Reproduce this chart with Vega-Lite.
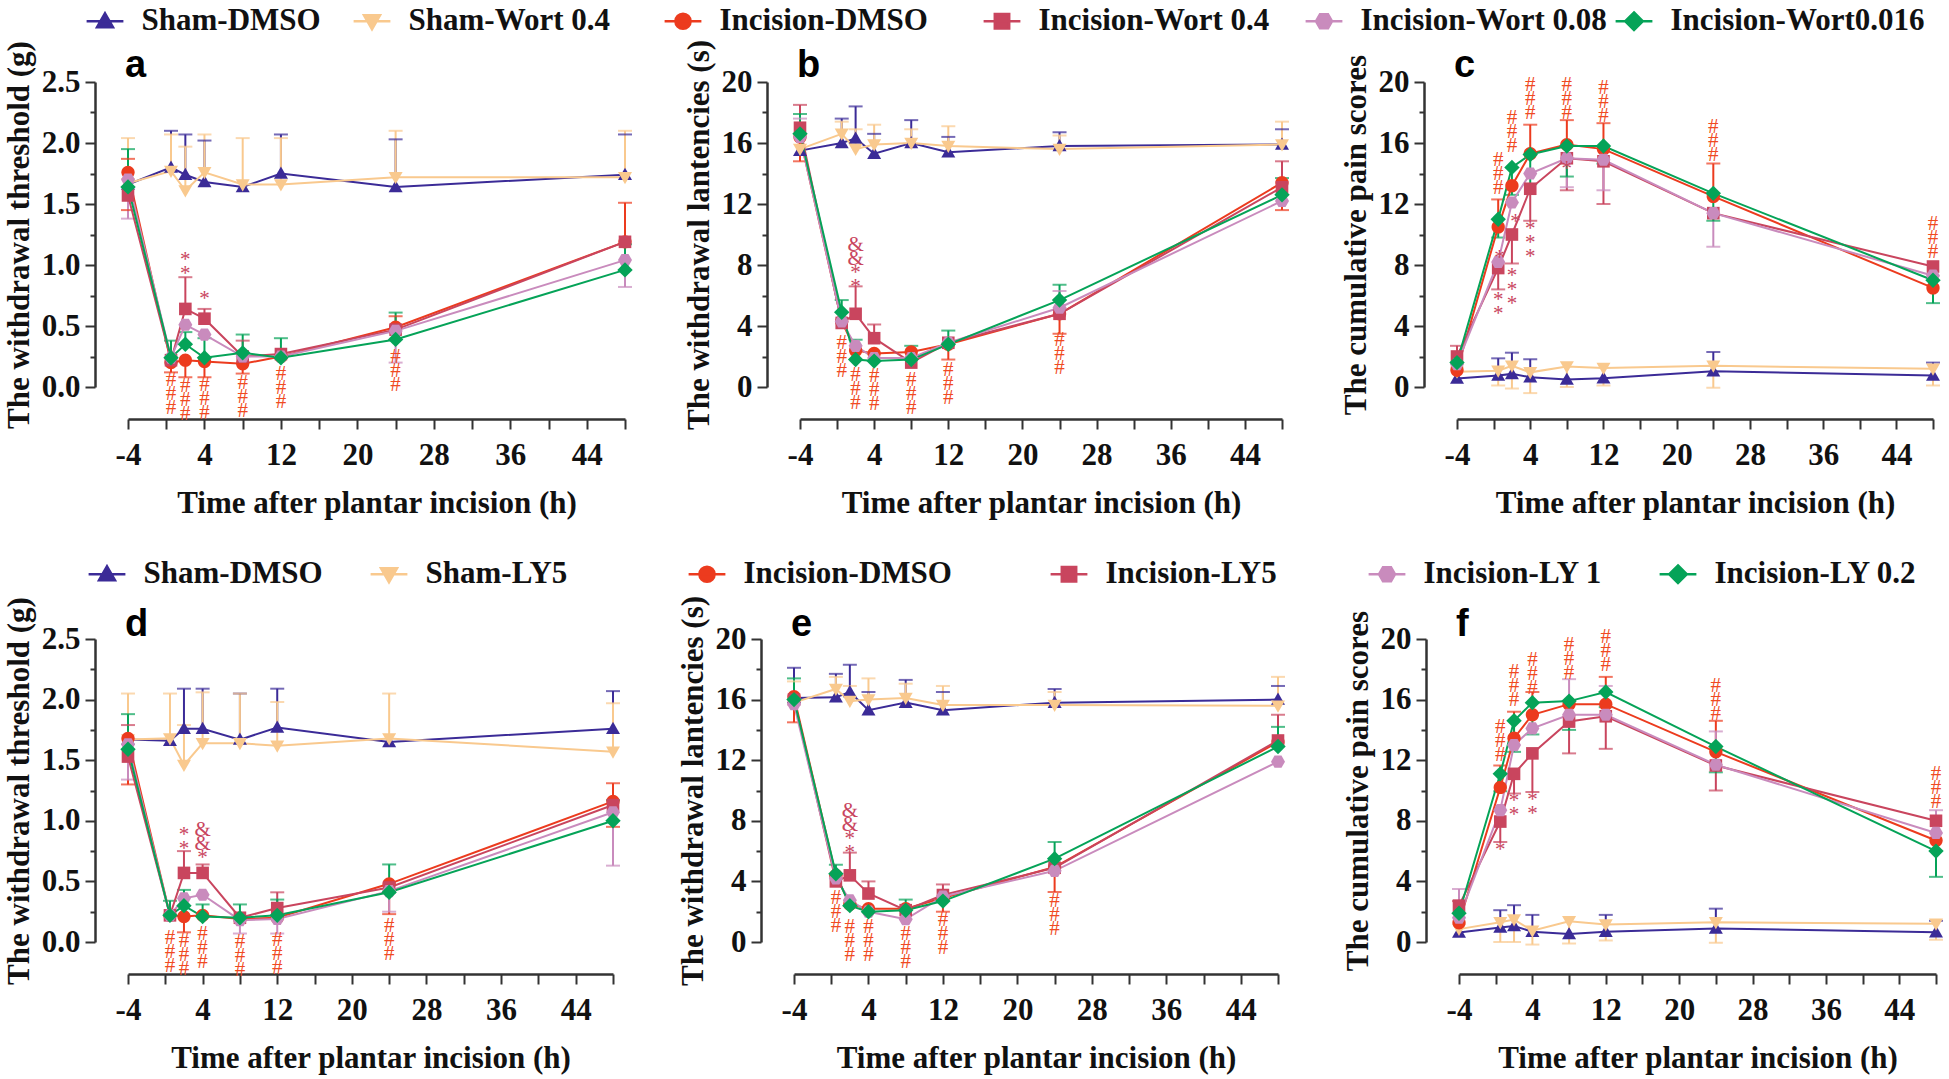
{
"$schema": "https://vega.github.io/schema/vega-lite/v6.json",
"padding": {"left": 3, "top": 5, "right": 5, "bottom": 5},
"background": "white",
"config": {
  "view": {"stroke": null},
  "axis": {"grid": false, "domainColor": "#333333", "domainWidth": 2.5, "tickColor": "#333333", "tickWidth": 2, "labelFont": "Liberation Serif", "labelFontSize": 31, "labelFontWeight": "bold", "labelColor": "#111111", "titleFont": "Liberation Serif", "titleFontSize": 31, "titleFontWeight": "bold", "titleColor": "#111111", "labelOverlap": false, "labelFlush": false, "labelBound": false},
  "text": {"font": "Liberation Serif"}
},
"datasets": {
"pts": [
{"p":"a","s":"Sham-DMSO","t":-4,"v":1.66},{"p":"a","s":"Sham-DMSO","t":0.5,"v":1.80,"hi":2.10},{"p":"a","s":"Sham-DMSO","t":2,"v":1.74,"hi":2.07},{"p":"a","s":"Sham-DMSO","t":4,"v":1.68,"hi":2.02},{"p":"a","s":"Sham-DMSO","t":8,"v":1.64},{"p":"a","s":"Sham-DMSO","t":12,"v":1.75,"hi":2.07},{"p":"a","s":"Sham-DMSO","t":24,"v":1.64,"hi":2.03},{"p":"a","s":"Sham-DMSO","t":48,"v":1.74,"hi":2.07},
{"p":"a","s":"Sham-Wort 0.4","t":-4,"v":1.67,"hi":2.04},{"p":"a","s":"Sham-Wort 0.4","t":0.5,"v":1.77,"hi":2.07},{"p":"a","s":"Sham-Wort 0.4","t":2,"v":1.61,"hi":1.97},{"p":"a","s":"Sham-Wort 0.4","t":4,"v":1.76,"hi":2.07},{"p":"a","s":"Sham-Wort 0.4","t":8,"v":1.66,"hi":2.04},{"p":"a","s":"Sham-Wort 0.4","t":12,"v":1.66,"hi":2.04},{"p":"a","s":"Sham-Wort 0.4","t":24,"v":1.72,"hi":2.10},{"p":"a","s":"Sham-Wort 0.4","t":48,"v":1.72,"hi":2.10},
{"p":"a","s":"Incision-DMSO","t":-4,"v":1.76,"hi":1.87,"lo":1.45},{"p":"a","s":"Incision-DMSO","t":0.5,"v":0.20,"lo":0.12},{"p":"a","s":"Incision-DMSO","t":2,"v":0.22,"lo":0.08},{"p":"a","s":"Incision-DMSO","t":4,"v":0.21,"lo":0.08},{"p":"a","s":"Incision-DMSO","t":8,"v":0.19,"lo":0.11},{"p":"a","s":"Incision-DMSO","t":12,"v":0.25},{"p":"a","s":"Incision-DMSO","t":24,"v":0.49,"hi":0.58},{"p":"a","s":"Incision-DMSO","t":48,"v":1.19,"hi":1.51},
{"p":"a","s":"Incision-Wort 0.4","t":-4,"v":1.57},{"p":"a","s":"Incision-Wort 0.4","t":0.5,"v":0.22},{"p":"a","s":"Incision-Wort 0.4","t":2,"v":0.64,"hi":0.90},{"p":"a","s":"Incision-Wort 0.4","t":4,"v":0.56,"hi":0.64},{"p":"a","s":"Incision-Wort 0.4","t":8,"v":0.25,"hi":0.38},{"p":"a","s":"Incision-Wort 0.4","t":12,"v":0.27},{"p":"a","s":"Incision-Wort 0.4","t":24,"v":0.47},{"p":"a","s":"Incision-Wort 0.4","t":48,"v":1.19},
{"p":"a","s":"Incision-Wort 0.08","t":-4,"v":1.70,"lo":1.38},{"p":"a","s":"Incision-Wort 0.08","t":0.5,"v":0.24},{"p":"a","s":"Incision-Wort 0.08","t":2,"v":0.51},{"p":"a","s":"Incision-Wort 0.08","t":4,"v":0.43},{"p":"a","s":"Incision-Wort 0.08","t":8,"v":0.25},{"p":"a","s":"Incision-Wort 0.08","t":12,"v":0.25},{"p":"a","s":"Incision-Wort 0.08","t":24,"v":0.46,"lo":0.20},{"p":"a","s":"Incision-Wort 0.08","t":48,"v":1.04,"lo":0.82},
{"p":"a","s":"Incision-Wort0.016","t":-4,"v":1.64,"hi":1.95},{"p":"a","s":"Incision-Wort0.016","t":0.5,"v":0.24,"hi":0.38},{"p":"a","s":"Incision-Wort0.016","t":2,"v":0.35,"hi":0.45},{"p":"a","s":"Incision-Wort0.016","t":4,"v":0.24,"hi":0.40},{"p":"a","s":"Incision-Wort0.016","t":8,"v":0.28,"hi":0.43},{"p":"a","s":"Incision-Wort0.016","t":12,"v":0.24,"hi":0.40},{"p":"a","s":"Incision-Wort0.016","t":24,"v":0.39,"hi":0.61},{"p":"a","s":"Incision-Wort0.016","t":48,"v":0.96,"hi":1.17},

{"p":"b","s":"Sham-DMSO","t":-4,"v":15.5},{"p":"b","s":"Sham-DMSO","t":0.5,"v":16.0,"hi":17.6},{"p":"b","s":"Sham-DMSO","t":2,"v":16.3,"hi":18.4},{"p":"b","s":"Sham-DMSO","t":4,"v":15.3,"hi":16.6},{"p":"b","s":"Sham-DMSO","t":8,"v":16.0,"hi":17.5},{"p":"b","s":"Sham-DMSO","t":12,"v":15.4,"hi":16.4},{"p":"b","s":"Sham-DMSO","t":24,"v":15.8,"hi":16.7},{"p":"b","s":"Sham-DMSO","t":48,"v":15.9,"hi":16.9},
{"p":"b","s":"Sham-Wort 0.4","t":-4,"v":15.6},{"p":"b","s":"Sham-Wort 0.4","t":0.5,"v":16.6,"hi":17.4},{"p":"b","s":"Sham-Wort 0.4","t":2,"v":15.6,"hi":16.9},{"p":"b","s":"Sham-Wort 0.4","t":4,"v":15.9,"hi":17.2},{"p":"b","s":"Sham-Wort 0.4","t":8,"v":16.0,"hi":16.9},{"p":"b","s":"Sham-Wort 0.4","t":12,"v":15.8,"hi":17.1},{"p":"b","s":"Sham-Wort 0.4","t":24,"v":15.6,"hi":16.5},{"p":"b","s":"Sham-Wort 0.4","t":48,"v":15.9,"hi":17.4},
{"p":"b","s":"Incision-DMSO","t":-4,"v":16.4,"lo":14.8},{"p":"b","s":"Incision-DMSO","t":0.5,"v":4.3},{"p":"b","s":"Incision-DMSO","t":2,"v":2.4},{"p":"b","s":"Incision-DMSO","t":4,"v":2.2},{"p":"b","s":"Incision-DMSO","t":8,"v":2.3},{"p":"b","s":"Incision-DMSO","t":12,"v":2.8,"lo":1.8},{"p":"b","s":"Incision-DMSO","t":24,"v":4.8,"lo":3.5},{"p":"b","s":"Incision-DMSO","t":48,"v":13.4,"lo":11.6},
{"p":"b","s":"Incision-Wort 0.4","t":-4,"v":17.0,"hi":18.5},{"p":"b","s":"Incision-Wort 0.4","t":0.5,"v":4.2},{"p":"b","s":"Incision-Wort 0.4","t":2,"v":4.8,"hi":6.6},{"p":"b","s":"Incision-Wort 0.4","t":4,"v":3.2,"hi":4.1},{"p":"b","s":"Incision-Wort 0.4","t":8,"v":1.6},{"p":"b","s":"Incision-Wort 0.4","t":12,"v":2.9},{"p":"b","s":"Incision-Wort 0.4","t":24,"v":4.8},{"p":"b","s":"Incision-Wort 0.4","t":48,"v":13.1,"hi":14.8},
{"p":"b","s":"Incision-Wort 0.08","t":-4,"v":16.4,"hi":17.6},{"p":"b","s":"Incision-Wort 0.08","t":0.5,"v":4.3},{"p":"b","s":"Incision-Wort 0.08","t":2,"v":2.7},{"p":"b","s":"Incision-Wort 0.08","t":4,"v":1.9},{"p":"b","s":"Incision-Wort 0.08","t":8,"v":1.9},{"p":"b","s":"Incision-Wort 0.08","t":12,"v":2.9},{"p":"b","s":"Incision-Wort 0.08","t":24,"v":5.2,"hi":6.3},{"p":"b","s":"Incision-Wort 0.08","t":48,"v":12.2},
{"p":"b","s":"Incision-Wort0.016","t":-4,"v":16.6,"hi":17.9},{"p":"b","s":"Incision-Wort0.016","t":0.5,"v":4.9,"hi":5.7},{"p":"b","s":"Incision-Wort0.016","t":2,"v":1.8,"hi":3.1},{"p":"b","s":"Incision-Wort0.016","t":4,"v":1.7},{"p":"b","s":"Incision-Wort0.016","t":8,"v":1.8,"hi":2.7},{"p":"b","s":"Incision-Wort0.016","t":12,"v":2.8,"hi":3.7},{"p":"b","s":"Incision-Wort0.016","t":24,"v":5.7,"hi":6.7},{"p":"b","s":"Incision-Wort0.016","t":48,"v":12.6,"hi":13.7},

{"p":"c","s":"Sham-DMSO","t":-4,"v":0.55},{"p":"c","s":"Sham-DMSO","t":0.5,"v":0.75,"hi":1.88},{"p":"c","s":"Sham-DMSO","t":2,"v":0.86,"hi":2.25},{"p":"c","s":"Sham-DMSO","t":4,"v":0.64,"hi":1.82},{"p":"c","s":"Sham-DMSO","t":8,"v":0.5},{"p":"c","s":"Sham-DMSO","t":12,"v":0.58},{"p":"c","s":"Sham-DMSO","t":24,"v":1.03,"hi":2.29},{"p":"c","s":"Sham-DMSO","t":48,"v":0.75,"hi":1.6},
{"p":"c","s":"Sham-Wort 0.4","t":-4,"v":1.0},{"p":"c","s":"Sham-Wort 0.4","t":0.5,"v":1.07,"lo":0.1},{"p":"c","s":"Sham-Wort 0.4","t":2,"v":1.39,"lo":-0.1},{"p":"c","s":"Sham-Wort 0.4","t":4,"v":0.96,"lo":-0.4},{"p":"c","s":"Sham-Wort 0.4","t":8,"v":1.35,"lo":0.0},{"p":"c","s":"Sham-Wort 0.4","t":12,"v":1.25,"lo":0.1},{"p":"c","s":"Sham-Wort 0.4","t":24,"v":1.39,"lo":-0.05},{"p":"c","s":"Sham-Wort 0.4","t":48,"v":1.2,"lo":0.1},
{"p":"c","s":"Incision-DMSO","t":-4,"v":1.1},{"p":"c","s":"Incision-DMSO","t":0.5,"v":10.5,"hi":12.3},{"p":"c","s":"Incision-DMSO","t":2,"v":13.2},{"p":"c","s":"Incision-DMSO","t":4,"v":15.3,"hi":17.2},{"p":"c","s":"Incision-DMSO","t":8,"v":15.9,"hi":17.5},{"p":"c","s":"Incision-DMSO","t":12,"v":15.6,"hi":17.3},{"p":"c","s":"Incision-DMSO","t":24,"v":12.5,"hi":14.65},{"p":"c","s":"Incision-DMSO","t":48,"v":6.5},
{"p":"c","s":"Incision-Wort 0.4","t":-4,"v":2.0,"hi":2.7},{"p":"c","s":"Incision-Wort 0.4","t":0.5,"v":7.8,"lo":6.4},{"p":"c","s":"Incision-Wort 0.4","t":2,"v":10.0,"lo":8.1},{"p":"c","s":"Incision-Wort 0.4","t":4,"v":13.0,"lo":10.9},{"p":"c","s":"Incision-Wort 0.4","t":8,"v":15.0,"lo":12.9},{"p":"c","s":"Incision-Wort 0.4","t":12,"v":14.8,"lo":12.0},{"p":"c","s":"Incision-Wort 0.4","t":24,"v":11.4},{"p":"c","s":"Incision-Wort 0.4","t":48,"v":7.9},
{"p":"c","s":"Incision-Wort 0.08","t":-4,"v":1.5},{"p":"c","s":"Incision-Wort 0.08","t":0.5,"v":8.2},{"p":"c","s":"Incision-Wort 0.08","t":2,"v":12.1},{"p":"c","s":"Incision-Wort 0.08","t":4,"v":14.0},{"p":"c","s":"Incision-Wort 0.08","t":8,"v":15.0,"lo":13.1},{"p":"c","s":"Incision-Wort 0.08","t":12,"v":14.9,"lo":12.9},{"p":"c","s":"Incision-Wort 0.08","t":24,"v":11.4,"lo":9.2},{"p":"c","s":"Incision-Wort 0.08","t":48,"v":7.3},
{"p":"c","s":"Incision-Wort0.016","t":-4,"v":1.6},{"p":"c","s":"Incision-Wort0.016","t":0.5,"v":11.0,"lo":9.8},{"p":"c","s":"Incision-Wort0.016","t":2,"v":14.4,"lo":12.6},{"p":"c","s":"Incision-Wort0.016","t":4,"v":15.25,"lo":13.3},{"p":"c","s":"Incision-Wort0.016","t":8,"v":15.8,"lo":13.8},{"p":"c","s":"Incision-Wort0.016","t":12,"v":15.8,"lo":14.65},{"p":"c","s":"Incision-Wort0.016","t":24,"v":12.7,"lo":10.9},{"p":"c","s":"Incision-Wort0.016","t":48,"v":7.0,"lo":5.5},

{"p":"d","s":"Sham-DMSO","t":-4,"v":1.67},{"p":"d","s":"Sham-DMSO","t":0.5,"v":1.66},{"p":"d","s":"Sham-DMSO","t":2,"v":1.76,"hi":2.09},{"p":"d","s":"Sham-DMSO","t":4,"v":1.76,"hi":2.09},{"p":"d","s":"Sham-DMSO","t":8,"v":1.67,"hi":2.05},{"p":"d","s":"Sham-DMSO","t":12,"v":1.77,"hi":2.09},{"p":"d","s":"Sham-DMSO","t":24,"v":1.65},{"p":"d","s":"Sham-DMSO","t":48,"v":1.76,"hi":2.07},
{"p":"d","s":"Sham-LY5","t":-4,"v":1.67,"hi":2.05},{"p":"d","s":"Sham-LY5","t":0.5,"v":1.68,"hi":2.05},{"p":"d","s":"Sham-LY5","t":2,"v":1.46,"hi":1.79},{"p":"d","s":"Sham-LY5","t":4,"v":1.64,"hi":2.06},{"p":"d","s":"Sham-LY5","t":8,"v":1.64,"hi":2.05},{"p":"d","s":"Sham-LY5","t":12,"v":1.62,"hi":1.98},{"p":"d","s":"Sham-LY5","t":24,"v":1.68,"hi":2.05},{"p":"d","s":"Sham-LY5","t":48,"v":1.57,"hi":1.97},
{"p":"d","s":"Incision-DMSO","t":-4,"v":1.68,"lo":1.30},{"p":"d","s":"Incision-DMSO","t":0.5,"v":0.22},{"p":"d","s":"Incision-DMSO","t":2,"v":0.21,"lo":0.08},{"p":"d","s":"Incision-DMSO","t":4,"v":0.22},{"p":"d","s":"Incision-DMSO","t":8,"v":0.19},{"p":"d","s":"Incision-DMSO","t":12,"v":0.20},{"p":"d","s":"Incision-DMSO","t":24,"v":0.48,"lo":0.23},{"p":"d","s":"Incision-DMSO","t":48,"v":1.16,"hi":1.31,"lo":0.95},
{"p":"d","s":"Incision-LY5","t":-4,"v":1.53,"hi":1.79},{"p":"d","s":"Incision-LY5","t":0.5,"v":0.22},{"p":"d","s":"Incision-LY5","t":2,"v":0.57,"hi":0.75},{"p":"d","s":"Incision-LY5","t":4,"v":0.57,"hi":0.64},{"p":"d","s":"Incision-LY5","t":8,"v":0.20},{"p":"d","s":"Incision-LY5","t":12,"v":0.28,"hi":0.41},{"p":"d","s":"Incision-LY5","t":24,"v":0.45},{"p":"d","s":"Incision-LY5","t":48,"v":1.13},
{"p":"d","s":"Incision-LY 1","t":-4,"v":1.63,"lo":1.34},{"p":"d","s":"Incision-LY 1","t":0.5,"v":0.22},{"p":"d","s":"Incision-LY 1","t":2,"v":0.36},{"p":"d","s":"Incision-LY 1","t":4,"v":0.39},{"p":"d","s":"Incision-LY 1","t":8,"v":0.18,"lo":0.07},{"p":"d","s":"Incision-LY 1","t":12,"v":0.19,"lo":0.07},{"p":"d","s":"Incision-LY 1","t":24,"v":0.42,"lo":0.25},{"p":"d","s":"Incision-LY 1","t":48,"v":1.07,"lo":0.63},
{"p":"d","s":"Incision-LY 0.2","t":-4,"v":1.59,"hi":1.88},{"p":"d","s":"Incision-LY 0.2","t":0.5,"v":0.22,"hi":0.34},{"p":"d","s":"Incision-LY 0.2","t":2,"v":0.30,"hi":0.43},{"p":"d","s":"Incision-LY 0.2","t":4,"v":0.21,"hi":0.31},{"p":"d","s":"Incision-LY 0.2","t":8,"v":0.20,"hi":0.31},{"p":"d","s":"Incision-LY 0.2","t":12,"v":0.22,"hi":0.35},{"p":"d","s":"Incision-LY 0.2","t":24,"v":0.41,"hi":0.64},{"p":"d","s":"Incision-LY 0.2","t":48,"v":1.00,"hi":1.17},

{"p":"e","s":"Sham-DMSO","t":-4,"v":16.1,"hi":18.1},{"p":"e","s":"Sham-DMSO","t":0.5,"v":16.15,"hi":17.7},{"p":"e","s":"Sham-DMSO","t":2,"v":16.5,"hi":18.3},{"p":"e","s":"Sham-DMSO","t":4,"v":15.3,"hi":16.5},{"p":"e","s":"Sham-DMSO","t":8,"v":15.8,"hi":17.3},{"p":"e","s":"Sham-DMSO","t":12,"v":15.3,"hi":16.5},{"p":"e","s":"Sham-DMSO","t":24,"v":15.8,"hi":16.7},{"p":"e","s":"Sham-DMSO","t":48,"v":16.0,"hi":16.9},
{"p":"e","s":"Sham-LY5","t":-4,"v":15.8,"hi":17.2},{"p":"e","s":"Sham-LY5","t":0.5,"v":16.7,"hi":17.5},{"p":"e","s":"Sham-LY5","t":2,"v":15.9,"hi":16.9},{"p":"e","s":"Sham-LY5","t":4,"v":16.0,"hi":17.4},{"p":"e","s":"Sham-LY5","t":8,"v":16.1,"hi":17.05},{"p":"e","s":"Sham-LY5","t":12,"v":15.65,"hi":16.9},{"p":"e","s":"Sham-LY5","t":24,"v":15.65,"hi":16.5},{"p":"e","s":"Sham-LY5","t":48,"v":15.6,"hi":17.5},
{"p":"e","s":"Incision-DMSO","t":-4,"v":16.2,"lo":14.5},{"p":"e","s":"Incision-DMSO","t":0.5,"v":4.4},{"p":"e","s":"Incision-DMSO","t":2,"v":2.5},{"p":"e","s":"Incision-DMSO","t":4,"v":2.2},{"p":"e","s":"Incision-DMSO","t":8,"v":2.2},{"p":"e","s":"Incision-DMSO","t":12,"v":2.9,"lo":2.0},{"p":"e","s":"Incision-DMSO","t":24,"v":4.95,"lo":3.3},{"p":"e","s":"Incision-DMSO","t":48,"v":13.2},
{"p":"e","s":"Incision-LY5","t":-4,"v":16.0},{"p":"e","s":"Incision-LY5","t":0.5,"v":4.0},{"p":"e","s":"Incision-LY5","t":2,"v":4.4,"hi":5.9},{"p":"e","s":"Incision-LY5","t":4,"v":3.2,"hi":4.0},{"p":"e","s":"Incision-LY5","t":8,"v":2.1},{"p":"e","s":"Incision-LY5","t":12,"v":3.1,"hi":3.8},{"p":"e","s":"Incision-LY5","t":24,"v":4.9},{"p":"e","s":"Incision-LY5","t":48,"v":13.3,"hi":15.0},
{"p":"e","s":"Incision-LY 1","t":-4,"v":15.7},{"p":"e","s":"Incision-LY 1","t":0.5,"v":4.2},{"p":"e","s":"Incision-LY 1","t":2,"v":2.75},{"p":"e","s":"Incision-LY 1","t":4,"v":2.0},{"p":"e","s":"Incision-LY 1","t":8,"v":1.5},{"p":"e","s":"Incision-LY 1","t":12,"v":3.0},{"p":"e","s":"Incision-LY 1","t":24,"v":4.7},{"p":"e","s":"Incision-LY 1","t":48,"v":11.9},
{"p":"e","s":"Incision-LY 0.2","t":-4,"v":16.0,"hi":17.4},{"p":"e","s":"Incision-LY 0.2","t":0.5,"v":4.5,"hi":5.1},{"p":"e","s":"Incision-LY 0.2","t":2,"v":2.4},{"p":"e","s":"Incision-LY 0.2","t":4,"v":2.0},{"p":"e","s":"Incision-LY 0.2","t":8,"v":2.1,"hi":2.8},{"p":"e","s":"Incision-LY 0.2","t":12,"v":2.7},{"p":"e","s":"Incision-LY 0.2","t":24,"v":5.5,"hi":6.6},{"p":"e","s":"Incision-LY 0.2","t":48,"v":12.9,"hi":14.2},

{"p":"f","s":"Sham-DMSO","t":-4,"v":0.63},{"p":"f","s":"Sham-DMSO","t":0.5,"v":0.95,"hi":2.1},{"p":"f","s":"Sham-DMSO","t":2,"v":1.05,"hi":2.43},{"p":"f","s":"Sham-DMSO","t":4,"v":0.68,"hi":1.79},{"p":"f","s":"Sham-DMSO","t":8,"v":0.53},{"p":"f","s":"Sham-DMSO","t":12,"v":0.68,"hi":1.79},{"p":"f","s":"Sham-DMSO","t":24,"v":0.89,"hi":2.2},{"p":"f","s":"Sham-DMSO","t":48,"v":0.65,"hi":1.4},
{"p":"f","s":"Sham-LY5","t":-4,"v":0.85},{"p":"f","s":"Sham-LY5","t":0.5,"v":1.3,"lo":0.0},{"p":"f","s":"Sham-LY5","t":2,"v":1.48,"lo":0.0},{"p":"f","s":"Sham-LY5","t":4,"v":0.74,"lo":-0.17},{"p":"f","s":"Sham-LY5","t":8,"v":1.37,"lo":-0.1},{"p":"f","s":"Sham-LY5","t":12,"v":1.16,"lo":0.1},{"p":"f","s":"Sham-LY5","t":24,"v":1.3,"lo":-0.05},{"p":"f","s":"Sham-LY5","t":48,"v":1.2,"lo":0.15},
{"p":"f","s":"Incision-DMSO","t":-4,"v":1.27},{"p":"f","s":"Incision-DMSO","t":0.5,"v":10.2,"hi":11.65},{"p":"f","s":"Incision-DMSO","t":2,"v":13.45,"hi":15.2},{"p":"f","s":"Incision-DMSO","t":4,"v":15.0,"hi":16.5},{"p":"f","s":"Incision-DMSO","t":8,"v":15.7},{"p":"f","s":"Incision-DMSO","t":12,"v":15.7,"hi":17.5},{"p":"f","s":"Incision-DMSO","t":24,"v":12.55,"hi":14.6},{"p":"f","s":"Incision-DMSO","t":48,"v":6.7},
{"p":"f","s":"Incision-LY5","t":-4,"v":2.4,"hi":2.7},{"p":"f","s":"Incision-LY5","t":0.5,"v":7.95,"lo":6.6},{"p":"f","s":"Incision-LY5","t":2,"v":11.1,"lo":9.8},{"p":"f","s":"Incision-LY5","t":4,"v":12.45,"lo":9.9},{"p":"f","s":"Incision-LY5","t":8,"v":14.55,"lo":12.45},{"p":"f","s":"Incision-LY5","t":12,"v":14.9,"lo":12.75},{"p":"f","s":"Incision-LY5","t":24,"v":11.65,"lo":10.0},{"p":"f","s":"Incision-LY5","t":48,"v":8.0},
{"p":"f","s":"Incision-LY 1","t":-4,"v":1.6,"hi":3.5},{"p":"f","s":"Incision-LY 1","t":0.5,"v":8.7},{"p":"f","s":"Incision-LY 1","t":2,"v":13.0},{"p":"f","s":"Incision-LY 1","t":4,"v":14.1},{"p":"f","s":"Incision-LY 1","t":8,"v":15.0,"hi":17.35},{"p":"f","s":"Incision-LY 1","t":12,"v":15.0,"hi":16.9},{"p":"f","s":"Incision-LY 1","t":24,"v":11.7,"hi":13.9},{"p":"f","s":"Incision-LY 1","t":48,"v":7.2,"hi":8.7},
{"p":"f","s":"Incision-LY 0.2","t":-4,"v":1.9},{"p":"f","s":"Incision-LY 0.2","t":0.5,"v":11.1,"lo":9.95},{"p":"f","s":"Incision-LY 0.2","t":2,"v":14.6,"lo":12.55},{"p":"f","s":"Incision-LY 0.2","t":4,"v":15.8,"lo":13.7},{"p":"f","s":"Incision-LY 0.2","t":8,"v":15.9,"lo":14.0},{"p":"f","s":"Incision-LY 0.2","t":12,"v":16.5,"lo":15.5},{"p":"f","s":"Incision-LY 0.2","t":24,"v":12.9,"lo":11.2},{"p":"f","s":"Incision-LY 0.2","t":48,"v":6.0,"lo":4.3}
],
"ann": [
{"p":"a","k":"L","t":-4,"v":2.5,"txt":"a"},{"p":"b","k":"L","t":-4,"v":20,"txt":"b"},{"p":"c","k":"L","t":-4,"v":20,"txt":"c"},{"p":"d","k":"L","t":-4,"v":2.5,"txt":"d"},{"p":"e","k":"L","t":-4,"v":20,"txt":"e"},{"p":"f","k":"L","t":-4,"v":20,"txt":"f"},
{"p":"a","k":"h","t":0.5,"v":0.06,"txt":"#\n#\n#"},{"p":"a","k":"h","t":2,"v":0.01,"txt":"#\n#\n#"},{"p":"a","k":"h","t":4,"v":0.02,"txt":"#\n#\n#"},{"p":"a","k":"h","t":8,"v":0.03,"txt":"#\n#\n#"},{"p":"a","k":"h","t":12,"v":0.11,"txt":"#\n#\n#"},{"p":"a","k":"h","t":24,"v":0.25,"txt":"#\n#\n#"},
{"p":"a","k":"s","t":2,"v":1.04,"txt":"*\n*"},{"p":"a","k":"s","t":4,"v":0.72,"txt":"*"},
{"p":"b","k":"h","t":0.5,"v":2.9,"txt":"#\n#\n#"},{"p":"b","k":"h","t":2,"v":0.8,"txt":"#\n#\n#"},{"p":"b","k":"h","t":4,"v":0.7,"txt":"#\n#\n#"},{"p":"b","k":"h","t":8,"v":0.45,"txt":"#\n#\n#"},{"p":"b","k":"h","t":12,"v":1.1,"txt":"#\n#\n#"},{"p":"b","k":"h","t":24,"v":3.1,"txt":"#\n#\n#"},
{"p":"b","k":"s","t":2,"v":9.3,"txt":"&\n&\n*\n*"},
{"p":"c","k":"h","t":0.5,"v":14.9,"txt":"#\n#\n#"},{"p":"c","k":"h","t":2,"v":17.65,"txt":"#\n#\n#"},{"p":"c","k":"h","t":4,"v":19.8,"txt":"#\n#\n#"},{"p":"c","k":"h","t":8,"v":19.8,"txt":"#\n#\n#"},{"p":"c","k":"h","t":12,"v":19.6,"txt":"#\n#\n#"},{"p":"c","k":"h","t":24,"v":17.05,"txt":"#\n#\n#"},{"p":"c","k":"h","t":48,"v":10.7,"txt":"#\n#\n#"},
{"p":"c","k":"s","t":0.65,"v":8.45,"txt":"*"},{"p":"c","k":"s","t":0.5,"v":5.7,"txt":"*\n*"},{"p":"c","k":"s","t":2.4,"v":10.85,"txt":"*"},{"p":"c","k":"s","t":2,"v":7.27,"txt":"*\n*\n*"},{"p":"c","k":"s","t":4,"v":10.37,"txt":"*\n*\n*"},{"p":"c","k":"s","t":8,"v":14.3,"txt":"*"},
{"p":"d","k":"h","t":0.5,"v":0.03,"txt":"#\n#\n#"},{"p":"d","k":"h","t":2,"v":0.01,"txt":"#\n#\n#"},{"p":"d","k":"h","t":4,"v":0.07,"txt":"#\n#\n#"},{"p":"d","k":"h","t":8,"v":0.0,"txt":"#\n#\n#"},{"p":"d","k":"h","t":12,"v":0.02,"txt":"#\n#\n#"},{"p":"d","k":"h","t":24,"v":0.13,"txt":"#\n#\n#"},
{"p":"d","k":"s","t":2,"v":0.88,"txt":"*\n*"},{"p":"d","k":"s","t":4,"v":0.92,"txt":"&\n&\n*"},
{"p":"e","k":"h","t":0.5,"v":2.9,"txt":"#\n#\n#"},{"p":"e","k":"h","t":2,"v":0.98,"txt":"#\n#\n#"},{"p":"e","k":"h","t":4,"v":0.98,"txt":"#\n#\n#"},{"p":"e","k":"h","t":8,"v":0.55,"txt":"#\n#\n#"},{"p":"e","k":"h","t":12,"v":1.42,"txt":"#\n#\n#"},{"p":"e","k":"h","t":24,"v":2.72,"txt":"#\n#\n#"},
{"p":"e","k":"s","t":2,"v":8.67,"txt":"&\n&\n*\n*"},
{"p":"f","k":"h","t":0.5,"v":14.2,"txt":"#\n#\n#"},{"p":"f","k":"h","t":2,"v":17.8,"txt":"#\n#\n#"},{"p":"f","k":"h","t":4,"v":18.6,"txt":"#\n#\n#"},{"p":"f","k":"h","t":8,"v":19.6,"txt":"#\n#\n#"},{"p":"f","k":"h","t":12,"v":20.1,"txt":"#\n#\n#"},{"p":"f","k":"h","t":24,"v":16.9,"txt":"#\n#\n#"},{"p":"f","k":"h","t":48,"v":11.1,"txt":"#\n#\n#"},
{"p":"f","k":"s","t":0.5,"v":6.1,"txt":"*"},{"p":"f","k":"s","t":2,"v":9.28,"txt":"*\n*"},{"p":"f","k":"s","t":4,"v":9.39,"txt":"*\n*"}
]
},
"vconcat": [
{"hconcat": [
{"width": 497, "height": 305,
 "encoding": {
  "x": {"field": "t", "type": "quantitative", "scale": {"domain": [-4, 48], "nice": false, "zero": false}, "axis": {"title": "Time after plantar incision (h)", "values": [-4,0,4,8,12,16,20,24,28,32,36,40,44,48], "labelExpr": "(datum.value + 4) % 8 == 0 ? '' + datum.value : ''", "offset": 32, "tickSize": 10, "labelPadding": 11, "titlePadding": 18}},
  "y": {"field": "v", "type": "quantitative", "title": "The withdrawal threshold (g)", "scale": {"domain": [0, 2.5], "nice": false, "zero": false}, "axis": {"values": [0,0.25,0.5,0.75,1,1.25,1.5,1.75,2,2.25,2.5], "labelExpr": "abs(datum.value*2 - round(datum.value*2)) < 0.01 ? format(datum.value, '.1f') : ''", "tickSize": {"condition": {"test": "abs(datum.value*2 - round(datum.value*2)) < 0.01", "value": 10}, "value": 5}, "offset": 33, "labelPadding": 5, "titlePadding": 6}},
  "color": {"field": "s", "type": "nominal", "scale": {"domain": ["Sham-DMSO","Sham-Wort 0.4","Sham-LY5","Incision-DMSO","Incision-Wort 0.4","Incision-LY5","Incision-Wort 0.08","Incision-LY 1","Incision-Wort0.016","Incision-LY 0.2"], "range": ["#3b2b97","#f9c98e","#f9c98e","#ec3b1e","#c9455e","#c9455e","#c98bbd","#c98bbd","#05a358","#05a358"]},
   "legend": {"title": null, "orient": "none", "legendX": -38.5, "legendY": -76.5, "direction": "horizontal", "columns": 2, "columnPadding": 27, "padding": 0, "values": ["Sham-DMSO","Sham-Wort 0.4"], "labelFont": "Liberation Serif", "labelFontSize": 31, "labelFontWeight": "bold", "labelColor": "#111111", "labelOffset": 21, "labelLimit": 500, "symbolSize": 256,
    "encode": {"symbols": {"update": {"shape": {"signal": "datum.value == 'Sham-DMSO' ? 'M-2.3,0H2.3M0,-1L1,0.75L-1,0.75Z' : 'M-2.3,0H2.3M-1,-0.75L1,-0.75L0,1Z'"}, "fill": {"signal": "datum.value == 'Sham-DMSO' ? '#3b2b97' : '#f9c98e'"}, "stroke": {"signal": "datum.value == 'Sham-DMSO' ? '#3b2b97' : '#f9c98e'"}, "strokeWidth": {"value": 2.5}, "opacity": {"value": 1}}}}}}
 },
 "layer": [
  {"data": {"name": "pts"}, "transform": [{"filter": "datum.p == 'a' && isValid(datum.hi)"}], "mark": {"type": "rule", "strokeWidth": 2}, "encoding": {"y2": {"field": "hi"}}},
  {"data": {"name": "pts"}, "transform": [{"filter": "datum.p == 'a' && isValid(datum.lo)"}], "mark": {"type": "rule", "strokeWidth": 2}, "encoding": {"y2": {"field": "lo"}}},
  {"data": {"name": "pts"}, "transform": [{"filter": "datum.p == 'a' && isValid(datum.hi)"}], "mark": {"type": "tick", "orient": "horizontal", "size": 14, "thickness": 2}, "encoding": {"y": {"field": "hi", "type": "quantitative", "title": "The withdrawal threshold (g)"}}},
  {"data": {"name": "pts"}, "transform": [{"filter": "datum.p == 'a' && isValid(datum.lo)"}], "mark": {"type": "tick", "orient": "horizontal", "size": 14, "thickness": 2}, "encoding": {"y": {"field": "lo", "type": "quantitative", "title": "The withdrawal threshold (g)"}}},
  {"data": {"name": "pts"}, "transform": [{"filter": "datum.p == 'a'"}], "mark": {"type": "line", "strokeWidth": 2}},
  {"data": {"name": "pts"}, "transform": [{"filter": "datum.p == 'a'"}], "mark": {"type": "point", "filled": true, "size": 196, "opacity": 1}, "encoding": {"shape": {"field": "s", "type": "nominal", "legend": null, "scale": {"domain": ["Sham-DMSO","Sham-Wort 0.4","Sham-LY5","Incision-DMSO","Incision-Wort 0.4","Incision-LY5","Incision-Wort 0.08","Incision-LY 1","Incision-Wort0.016","Incision-LY 0.2"], "range": ["M0,-1L1,0.75L-1,0.75Z","M-1,-0.75L1,-0.75L0,1Z","M-1,-0.75L1,-0.75L0,1Z","M-0.95,0A0.95,0.95,0,1,1,0.95,0A0.95,0.95,0,1,1,-0.95,0Z","M-0.9,-0.9H0.9V0.9H-0.9Z","M-0.9,-0.9H0.9V0.9H-0.9Z","M-0.5,-0.87L0.5,-0.87L1,0L0.5,0.87L-0.5,0.87L-1,0Z","M-0.5,-0.87L0.5,-0.87L1,0L0.5,0.87L-0.5,0.87L-1,0Z","M0,-1.1L1.1,0L0,1.1L-1.1,0Z","M0,-1.1L1.1,0L0,1.1L-1.1,0Z"]}}}},
  {"data": {"name": "ann"}, "transform": [{"filter": "datum.p == 'a' && datum.k != 'L'"}], "mark": {"type": "text", "lineBreak": "\n", "font": "Liberation Serif", "fontSize": 21, "lineHeight": 14, "baseline": "middle", "align": "center"}, "encoding": {"text": {"field": "txt"}, "color": {"condition": {"test": "datum.k == 'h'", "value": "#f04a22"}, "value": "#c9455e"}}},
  {"data": {"name": "ann"}, "transform": [{"filter": "datum.p == 'a' && datum.k == 'L'"}], "mark": {"type": "text", "font": "Liberation Sans", "fontSize": 38, "fontWeight": "bold", "baseline": "alphabetic", "align": "left", "dx": -3, "dy": -5}, "encoding": {"text": {"field": "txt"}, "color": {"value": "#000000"}}}
 ]},
{"width": 482, "height": 305,
 "encoding": {
  "x": {"field": "t", "type": "quantitative", "scale": {"domain": [-4, 48], "nice": false, "zero": false}, "axis": {"title": "Time after plantar incision (h)", "values": [-4,0,4,8,12,16,20,24,28,32,36,40,44,48], "labelExpr": "(datum.value + 4) % 8 == 0 ? '' + datum.value : ''", "offset": 32, "tickSize": 10, "labelPadding": 11, "titlePadding": 18}},
  "y": {"field": "v", "type": "quantitative", "title": "The withdrawal lantencies (s)", "scale": {"domain": [0, 20], "nice": false, "zero": false}, "axis": {"values": [0,2,4,6,8,10,12,14,16,18,20], "labelExpr": "datum.value % 4 == 0 ? '' + datum.value : ''", "tickSize": {"condition": {"test": "datum.value % 4 == 0", "value": 10}, "value": 5}, "offset": 33, "labelPadding": 5, "titlePadding": 6}},
  "color": {"field": "s", "type": "nominal", "scale": {"domain": ["Sham-DMSO","Sham-Wort 0.4","Sham-LY5","Incision-DMSO","Incision-Wort 0.4","Incision-LY5","Incision-Wort 0.08","Incision-LY 1","Incision-Wort0.016","Incision-LY 0.2"], "range": ["#3b2b97","#f9c98e","#f9c98e","#ec3b1e","#c9455e","#c9455e","#c98bbd","#c98bbd","#05a358","#05a358"]},
   "legend": {"title": null, "orient": "none", "legendX": -132.5, "legendY": -76.5, "direction": "horizontal", "columns": 2, "columnPadding": 50, "padding": 0, "values": ["Incision-DMSO","Incision-Wort 0.4"], "labelFont": "Liberation Serif", "labelFontSize": 31, "labelFontWeight": "bold", "labelColor": "#111111", "labelOffset": 21, "labelLimit": 500, "symbolSize": 256,
    "encode": {"symbols": {"update": {"shape": {"signal": "datum.value == 'Incision-DMSO' ? 'M-2.3,0H2.3M-0.95,0A0.95,0.95,0,1,1,0.95,0A0.95,0.95,0,1,1,-0.95,0Z' : 'M-2.3,0H2.3M-0.9,-0.9H0.9V0.9H-0.9Z'"}, "fill": {"signal": "datum.value == 'Incision-DMSO' ? '#ec3b1e' : '#c9455e'"}, "stroke": {"signal": "datum.value == 'Incision-DMSO' ? '#ec3b1e' : '#c9455e'"}, "strokeWidth": {"value": 2.5}, "opacity": {"value": 1}}}}}}
 },
 "layer": [
  {"data": {"name": "pts"}, "transform": [{"filter": "datum.p == 'b' && isValid(datum.hi)"}], "mark": {"type": "rule", "strokeWidth": 2}, "encoding": {"y2": {"field": "hi"}}},
  {"data": {"name": "pts"}, "transform": [{"filter": "datum.p == 'b' && isValid(datum.lo)"}], "mark": {"type": "rule", "strokeWidth": 2}, "encoding": {"y2": {"field": "lo"}}},
  {"data": {"name": "pts"}, "transform": [{"filter": "datum.p == 'b' && isValid(datum.hi)"}], "mark": {"type": "tick", "orient": "horizontal", "size": 14, "thickness": 2}, "encoding": {"y": {"field": "hi", "type": "quantitative", "title": "The withdrawal lantencies (s)"}}},
  {"data": {"name": "pts"}, "transform": [{"filter": "datum.p == 'b' && isValid(datum.lo)"}], "mark": {"type": "tick", "orient": "horizontal", "size": 14, "thickness": 2}, "encoding": {"y": {"field": "lo", "type": "quantitative", "title": "The withdrawal lantencies (s)"}}},
  {"data": {"name": "pts"}, "transform": [{"filter": "datum.p == 'b'"}], "mark": {"type": "line", "strokeWidth": 2}},
  {"data": {"name": "pts"}, "transform": [{"filter": "datum.p == 'b'"}], "mark": {"type": "point", "filled": true, "size": 196, "opacity": 1}, "encoding": {"shape": {"field": "s", "type": "nominal", "legend": null, "scale": {"domain": ["Sham-DMSO","Sham-Wort 0.4","Sham-LY5","Incision-DMSO","Incision-Wort 0.4","Incision-LY5","Incision-Wort 0.08","Incision-LY 1","Incision-Wort0.016","Incision-LY 0.2"], "range": ["M0,-1L1,0.75L-1,0.75Z","M-1,-0.75L1,-0.75L0,1Z","M-1,-0.75L1,-0.75L0,1Z","M-0.95,0A0.95,0.95,0,1,1,0.95,0A0.95,0.95,0,1,1,-0.95,0Z","M-0.9,-0.9H0.9V0.9H-0.9Z","M-0.9,-0.9H0.9V0.9H-0.9Z","M-0.5,-0.87L0.5,-0.87L1,0L0.5,0.87L-0.5,0.87L-1,0Z","M-0.5,-0.87L0.5,-0.87L1,0L0.5,0.87L-0.5,0.87L-1,0Z","M0,-1.1L1.1,0L0,1.1L-1.1,0Z","M0,-1.1L1.1,0L0,1.1L-1.1,0Z"]}}}},
  {"data": {"name": "ann"}, "transform": [{"filter": "datum.p == 'b' && datum.k != 'L'"}], "mark": {"type": "text", "lineBreak": "\n", "font": "Liberation Serif", "fontSize": 21, "lineHeight": 14, "baseline": "middle", "align": "center"}, "encoding": {"text": {"field": "txt"}, "color": {"condition": {"test": "datum.k == 'h'", "value": "#f04a22"}, "value": "#c9455e"}}},
  {"data": {"name": "ann"}, "transform": [{"filter": "datum.p == 'b' && datum.k == 'L'"}], "mark": {"type": "text", "font": "Liberation Sans", "fontSize": 38, "fontWeight": "bold", "baseline": "alphabetic", "align": "left", "dx": -3, "dy": -5}, "encoding": {"text": {"field": "txt"}, "color": {"value": "#000000"}}}
 ]},
{"width": 476, "height": 305,
 "encoding": {
  "x": {"field": "t", "type": "quantitative", "scale": {"domain": [-4, 48], "nice": false, "zero": false}, "axis": {"title": "Time after plantar incision (h)", "values": [-4,0,4,8,12,16,20,24,28,32,36,40,44,48], "labelExpr": "(datum.value + 4) % 8 == 0 ? '' + datum.value : ''", "offset": 32, "tickSize": 10, "labelPadding": 11, "titlePadding": 18}},
  "y": {"field": "v", "type": "quantitative", "title": "The cumulative pain scores", "scale": {"domain": [0, 20], "nice": false, "zero": false}, "axis": {"values": [0,2,4,6,8,10,12,14,16,18,20], "labelExpr": "datum.value % 4 == 0 ? '' + datum.value : ''", "tickSize": {"condition": {"test": "datum.value % 4 == 0", "value": 10}, "value": 5}, "offset": 33, "labelPadding": 5, "titlePadding": 6}},
  "color": {"field": "s", "type": "nominal", "scale": {"domain": ["Sham-DMSO","Sham-Wort 0.4","Sham-LY5","Incision-DMSO","Incision-Wort 0.4","Incision-LY5","Incision-Wort 0.08","Incision-LY 1","Incision-Wort0.016","Incision-LY 0.2"], "range": ["#3b2b97","#f9c98e","#f9c98e","#ec3b1e","#c9455e","#c9455e","#c98bbd","#c98bbd","#05a358","#05a358"]},
   "legend": {"title": null, "orient": "none", "legendX": -148.5, "legendY": -76.5, "direction": "horizontal", "columns": 2, "columnPadding": 3, "padding": 0, "values": ["Incision-Wort 0.08","Incision-Wort0.016"], "labelFont": "Liberation Serif", "labelFontSize": 31, "labelFontWeight": "bold", "labelColor": "#111111", "labelOffset": 21, "labelLimit": 500, "symbolSize": 256,
    "encode": {"symbols": {"update": {"shape": {"signal": "datum.value == 'Incision-Wort 0.08' ? 'M-2.3,0H2.3M-0.5,-0.87L0.5,-0.87L1,0L0.5,0.87L-0.5,0.87L-1,0Z' : 'M-2.3,0H2.3M0,-1.1L1.1,0L0,1.1L-1.1,0Z'"}, "fill": {"signal": "datum.value == 'Incision-Wort 0.08' ? '#c98bbd' : '#05a358'"}, "stroke": {"signal": "datum.value == 'Incision-Wort 0.08' ? '#c98bbd' : '#05a358'"}, "strokeWidth": {"value": 2.5}, "opacity": {"value": 1}}}}}}
 },
 "layer": [
  {"data": {"name": "pts"}, "transform": [{"filter": "datum.p == 'c' && isValid(datum.hi)"}], "mark": {"type": "rule", "strokeWidth": 2}, "encoding": {"y2": {"field": "hi"}}},
  {"data": {"name": "pts"}, "transform": [{"filter": "datum.p == 'c' && isValid(datum.lo)"}], "mark": {"type": "rule", "strokeWidth": 2}, "encoding": {"y2": {"field": "lo"}}},
  {"data": {"name": "pts"}, "transform": [{"filter": "datum.p == 'c' && isValid(datum.hi)"}], "mark": {"type": "tick", "orient": "horizontal", "size": 14, "thickness": 2}, "encoding": {"y": {"field": "hi", "type": "quantitative", "title": "The cumulative pain scores"}}},
  {"data": {"name": "pts"}, "transform": [{"filter": "datum.p == 'c' && isValid(datum.lo)"}], "mark": {"type": "tick", "orient": "horizontal", "size": 14, "thickness": 2}, "encoding": {"y": {"field": "lo", "type": "quantitative", "title": "The cumulative pain scores"}}},
  {"data": {"name": "pts"}, "transform": [{"filter": "datum.p == 'c'"}], "mark": {"type": "line", "strokeWidth": 2}},
  {"data": {"name": "pts"}, "transform": [{"filter": "datum.p == 'c'"}], "mark": {"type": "point", "filled": true, "size": 196, "opacity": 1}, "encoding": {"shape": {"field": "s", "type": "nominal", "legend": null, "scale": {"domain": ["Sham-DMSO","Sham-Wort 0.4","Sham-LY5","Incision-DMSO","Incision-Wort 0.4","Incision-LY5","Incision-Wort 0.08","Incision-LY 1","Incision-Wort0.016","Incision-LY 0.2"], "range": ["M0,-1L1,0.75L-1,0.75Z","M-1,-0.75L1,-0.75L0,1Z","M-1,-0.75L1,-0.75L0,1Z","M-0.95,0A0.95,0.95,0,1,1,0.95,0A0.95,0.95,0,1,1,-0.95,0Z","M-0.9,-0.9H0.9V0.9H-0.9Z","M-0.9,-0.9H0.9V0.9H-0.9Z","M-0.5,-0.87L0.5,-0.87L1,0L0.5,0.87L-0.5,0.87L-1,0Z","M-0.5,-0.87L0.5,-0.87L1,0L0.5,0.87L-0.5,0.87L-1,0Z","M0,-1.1L1.1,0L0,1.1L-1.1,0Z","M0,-1.1L1.1,0L0,1.1L-1.1,0Z"]}}}},
  {"data": {"name": "ann"}, "transform": [{"filter": "datum.p == 'c' && datum.k != 'L'"}], "mark": {"type": "text", "lineBreak": "\n", "font": "Liberation Serif", "fontSize": 21, "lineHeight": 14, "baseline": "middle", "align": "center"}, "encoding": {"text": {"field": "txt"}, "color": {"condition": {"test": "datum.k == 'h'", "value": "#f04a22"}, "value": "#c9455e"}}},
  {"data": {"name": "ann"}, "transform": [{"filter": "datum.p == 'c' && datum.k == 'L'"}], "mark": {"type": "text", "font": "Liberation Sans", "fontSize": 38, "fontWeight": "bold", "baseline": "alphabetic", "align": "left", "dx": -3, "dy": -5}, "encoding": {"text": {"field": "txt"}, "color": {"value": "#000000"}}}
 ]}
], "spacing": 175, "bounds": "flush", "resolve": {"legend": {"color": "independent"}}},
{"hconcat": [
{"width": 485, "height": 303,
 "encoding": {
  "x": {"field": "t", "type": "quantitative", "scale": {"domain": [-4, 48], "nice": false, "zero": false}, "axis": {"title": "Time after plantar incision (h)", "values": [-4,0,4,8,12,16,20,24,28,32,36,40,44,48], "labelExpr": "(datum.value + 4) % 8 == 0 ? '' + datum.value : ''", "offset": 32, "tickSize": 10, "labelPadding": 11, "titlePadding": 18}},
  "y": {"field": "v", "type": "quantitative", "title": "The withdrawal threshold (g)", "scale": {"domain": [0, 2.5], "nice": false, "zero": false}, "axis": {"values": [0,0.25,0.5,0.75,1,1.25,1.5,1.75,2,2.25,2.5], "labelExpr": "abs(datum.value*2 - round(datum.value*2)) < 0.01 ? format(datum.value, '.1f') : ''", "tickSize": {"condition": {"test": "abs(datum.value*2 - round(datum.value*2)) < 0.01", "value": 10}, "value": 5}, "offset": 33, "labelPadding": 5, "titlePadding": 6}},
  "color": {"field": "s", "type": "nominal", "scale": {"domain": ["Sham-DMSO","Sham-Wort 0.4","Sham-LY5","Incision-DMSO","Incision-Wort 0.4","Incision-LY5","Incision-Wort 0.08","Incision-LY 1","Incision-Wort0.016","Incision-LY 0.2"], "range": ["#3b2b97","#f9c98e","#f9c98e","#ec3b1e","#c9455e","#c9455e","#c98bbd","#c98bbd","#05a358","#05a358"]},
   "legend": {"title": null, "orient": "none", "legendX": -36.5, "legendY": -80.5, "direction": "horizontal", "columns": 2, "columnPadding": 42, "padding": 0, "values": ["Sham-DMSO","Sham-LY5"], "labelFont": "Liberation Serif", "labelFontSize": 31, "labelFontWeight": "bold", "labelColor": "#111111", "labelOffset": 21, "labelLimit": 500, "symbolSize": 256,
    "encode": {"symbols": {"update": {"shape": {"signal": "datum.value == 'Sham-DMSO' ? 'M-2.3,0H2.3M0,-1L1,0.75L-1,0.75Z' : 'M-2.3,0H2.3M-1,-0.75L1,-0.75L0,1Z'"}, "fill": {"signal": "datum.value == 'Sham-DMSO' ? '#3b2b97' : '#f9c98e'"}, "stroke": {"signal": "datum.value == 'Sham-DMSO' ? '#3b2b97' : '#f9c98e'"}, "strokeWidth": {"value": 2.5}, "opacity": {"value": 1}}}}}}
 },
 "layer": [
  {"data": {"name": "pts"}, "transform": [{"filter": "datum.p == 'd' && isValid(datum.hi)"}], "mark": {"type": "rule", "strokeWidth": 2}, "encoding": {"y2": {"field": "hi"}}},
  {"data": {"name": "pts"}, "transform": [{"filter": "datum.p == 'd' && isValid(datum.lo)"}], "mark": {"type": "rule", "strokeWidth": 2}, "encoding": {"y2": {"field": "lo"}}},
  {"data": {"name": "pts"}, "transform": [{"filter": "datum.p == 'd' && isValid(datum.hi)"}], "mark": {"type": "tick", "orient": "horizontal", "size": 14, "thickness": 2}, "encoding": {"y": {"field": "hi", "type": "quantitative", "title": "The withdrawal threshold (g)"}}},
  {"data": {"name": "pts"}, "transform": [{"filter": "datum.p == 'd' && isValid(datum.lo)"}], "mark": {"type": "tick", "orient": "horizontal", "size": 14, "thickness": 2}, "encoding": {"y": {"field": "lo", "type": "quantitative", "title": "The withdrawal threshold (g)"}}},
  {"data": {"name": "pts"}, "transform": [{"filter": "datum.p == 'd'"}], "mark": {"type": "line", "strokeWidth": 2}},
  {"data": {"name": "pts"}, "transform": [{"filter": "datum.p == 'd'"}], "mark": {"type": "point", "filled": true, "size": 196, "opacity": 1}, "encoding": {"shape": {"field": "s", "type": "nominal", "legend": null, "scale": {"domain": ["Sham-DMSO","Sham-Wort 0.4","Sham-LY5","Incision-DMSO","Incision-Wort 0.4","Incision-LY5","Incision-Wort 0.08","Incision-LY 1","Incision-Wort0.016","Incision-LY 0.2"], "range": ["M0,-1L1,0.75L-1,0.75Z","M-1,-0.75L1,-0.75L0,1Z","M-1,-0.75L1,-0.75L0,1Z","M-0.95,0A0.95,0.95,0,1,1,0.95,0A0.95,0.95,0,1,1,-0.95,0Z","M-0.9,-0.9H0.9V0.9H-0.9Z","M-0.9,-0.9H0.9V0.9H-0.9Z","M-0.5,-0.87L0.5,-0.87L1,0L0.5,0.87L-0.5,0.87L-1,0Z","M-0.5,-0.87L0.5,-0.87L1,0L0.5,0.87L-0.5,0.87L-1,0Z","M0,-1.1L1.1,0L0,1.1L-1.1,0Z","M0,-1.1L1.1,0L0,1.1L-1.1,0Z"]}}}},
  {"data": {"name": "ann"}, "transform": [{"filter": "datum.p == 'd' && datum.k != 'L'"}], "mark": {"type": "text", "lineBreak": "\n", "font": "Liberation Serif", "fontSize": 21, "lineHeight": 14, "baseline": "middle", "align": "center"}, "encoding": {"text": {"field": "txt"}, "color": {"condition": {"test": "datum.k == 'h'", "value": "#f04a22"}, "value": "#c9455e"}}},
  {"data": {"name": "ann"}, "transform": [{"filter": "datum.p == 'd' && datum.k == 'L'"}], "mark": {"type": "text", "font": "Liberation Sans", "fontSize": 38, "fontWeight": "bold", "baseline": "alphabetic", "align": "left", "dx": -3, "dy": -3}, "encoding": {"text": {"field": "txt"}, "color": {"value": "#000000"}}}
 ]},
{"width": 484, "height": 303,
 "encoding": {
  "x": {"field": "t", "type": "quantitative", "scale": {"domain": [-4, 48], "nice": false, "zero": false}, "axis": {"title": "Time after plantar incision (h)", "values": [-4,0,4,8,12,16,20,24,28,32,36,40,44,48], "labelExpr": "(datum.value + 4) % 8 == 0 ? '' + datum.value : ''", "offset": 32, "tickSize": 10, "labelPadding": 11, "titlePadding": 18}},
  "y": {"field": "v", "type": "quantitative", "title": "The withdrawal lantencies (s)", "scale": {"domain": [0, 20], "nice": false, "zero": false}, "axis": {"values": [0,2,4,6,8,10,12,14,16,18,20], "labelExpr": "datum.value % 4 == 0 ? '' + datum.value : ''", "tickSize": {"condition": {"test": "datum.value % 4 == 0", "value": 10}, "value": 5}, "offset": 33, "labelPadding": 5, "titlePadding": 6}},
  "color": {"field": "s", "type": "nominal", "scale": {"domain": ["Sham-DMSO","Sham-Wort 0.4","Sham-LY5","Incision-DMSO","Incision-Wort 0.4","Incision-LY5","Incision-Wort 0.08","Incision-LY 1","Incision-Wort0.016","Incision-LY 0.2"], "range": ["#3b2b97","#f9c98e","#f9c98e","#ec3b1e","#c9455e","#c9455e","#c98bbd","#c98bbd","#05a358","#05a358"]},
   "legend": {"title": null, "orient": "none", "legendX": -102.5, "legendY": -80.5, "direction": "horizontal", "columns": 2, "columnPadding": 93, "padding": 0, "values": ["Incision-DMSO","Incision-LY5"], "labelFont": "Liberation Serif", "labelFontSize": 31, "labelFontWeight": "bold", "labelColor": "#111111", "labelOffset": 21, "labelLimit": 500, "symbolSize": 256,
    "encode": {"symbols": {"update": {"shape": {"signal": "datum.value == 'Incision-DMSO' ? 'M-2.3,0H2.3M-0.95,0A0.95,0.95,0,1,1,0.95,0A0.95,0.95,0,1,1,-0.95,0Z' : 'M-2.3,0H2.3M-0.9,-0.9H0.9V0.9H-0.9Z'"}, "fill": {"signal": "datum.value == 'Incision-DMSO' ? '#ec3b1e' : '#c9455e'"}, "stroke": {"signal": "datum.value == 'Incision-DMSO' ? '#ec3b1e' : '#c9455e'"}, "strokeWidth": {"value": 2.5}, "opacity": {"value": 1}}}}}}
 },
 "layer": [
  {"data": {"name": "pts"}, "transform": [{"filter": "datum.p == 'e' && isValid(datum.hi)"}], "mark": {"type": "rule", "strokeWidth": 2}, "encoding": {"y2": {"field": "hi"}}},
  {"data": {"name": "pts"}, "transform": [{"filter": "datum.p == 'e' && isValid(datum.lo)"}], "mark": {"type": "rule", "strokeWidth": 2}, "encoding": {"y2": {"field": "lo"}}},
  {"data": {"name": "pts"}, "transform": [{"filter": "datum.p == 'e' && isValid(datum.hi)"}], "mark": {"type": "tick", "orient": "horizontal", "size": 14, "thickness": 2}, "encoding": {"y": {"field": "hi", "type": "quantitative", "title": "The withdrawal lantencies (s)"}}},
  {"data": {"name": "pts"}, "transform": [{"filter": "datum.p == 'e' && isValid(datum.lo)"}], "mark": {"type": "tick", "orient": "horizontal", "size": 14, "thickness": 2}, "encoding": {"y": {"field": "lo", "type": "quantitative", "title": "The withdrawal lantencies (s)"}}},
  {"data": {"name": "pts"}, "transform": [{"filter": "datum.p == 'e'"}], "mark": {"type": "line", "strokeWidth": 2}},
  {"data": {"name": "pts"}, "transform": [{"filter": "datum.p == 'e'"}], "mark": {"type": "point", "filled": true, "size": 196, "opacity": 1}, "encoding": {"shape": {"field": "s", "type": "nominal", "legend": null, "scale": {"domain": ["Sham-DMSO","Sham-Wort 0.4","Sham-LY5","Incision-DMSO","Incision-Wort 0.4","Incision-LY5","Incision-Wort 0.08","Incision-LY 1","Incision-Wort0.016","Incision-LY 0.2"], "range": ["M0,-1L1,0.75L-1,0.75Z","M-1,-0.75L1,-0.75L0,1Z","M-1,-0.75L1,-0.75L0,1Z","M-0.95,0A0.95,0.95,0,1,1,0.95,0A0.95,0.95,0,1,1,-0.95,0Z","M-0.9,-0.9H0.9V0.9H-0.9Z","M-0.9,-0.9H0.9V0.9H-0.9Z","M-0.5,-0.87L0.5,-0.87L1,0L0.5,0.87L-0.5,0.87L-1,0Z","M-0.5,-0.87L0.5,-0.87L1,0L0.5,0.87L-0.5,0.87L-1,0Z","M0,-1.1L1.1,0L0,1.1L-1.1,0Z","M0,-1.1L1.1,0L0,1.1L-1.1,0Z"]}}}},
  {"data": {"name": "ann"}, "transform": [{"filter": "datum.p == 'e' && datum.k != 'L'"}], "mark": {"type": "text", "lineBreak": "\n", "font": "Liberation Serif", "fontSize": 21, "lineHeight": 14, "baseline": "middle", "align": "center"}, "encoding": {"text": {"field": "txt"}, "color": {"condition": {"test": "datum.k == 'h'", "value": "#f04a22"}, "value": "#c9455e"}}},
  {"data": {"name": "ann"}, "transform": [{"filter": "datum.p == 'e' && datum.k == 'L'"}], "mark": {"type": "text", "font": "Liberation Sans", "fontSize": 38, "fontWeight": "bold", "baseline": "alphabetic", "align": "left", "dx": -3, "dy": -3}, "encoding": {"text": {"field": "txt"}, "color": {"value": "#000000"}}}
 ]},
{"width": 477, "height": 303,
 "encoding": {
  "x": {"field": "t", "type": "quantitative", "scale": {"domain": [-4, 48], "nice": false, "zero": false}, "axis": {"title": "Time after plantar incision (h)", "values": [-4,0,4,8,12,16,20,24,28,32,36,40,44,48], "labelExpr": "(datum.value + 4) % 8 == 0 ? '' + datum.value : ''", "offset": 32, "tickSize": 10, "labelPadding": 11, "titlePadding": 18}},
  "y": {"field": "v", "type": "quantitative", "title": "The cumulative pain scores", "scale": {"domain": [0, 20], "nice": false, "zero": false}, "axis": {"values": [0,2,4,6,8,10,12,14,16,18,20], "labelExpr": "datum.value % 4 == 0 ? '' + datum.value : ''", "tickSize": {"condition": {"test": "datum.value % 4 == 0", "value": 10}, "value": 5}, "offset": 33, "labelPadding": 5, "titlePadding": 6}},
  "color": {"field": "s", "type": "nominal", "scale": {"domain": ["Sham-DMSO","Sham-Wort 0.4","Sham-LY5","Incision-DMSO","Incision-Wort 0.4","Incision-LY5","Incision-Wort 0.08","Incision-LY 1","Incision-Wort0.016","Incision-LY 0.2"], "range": ["#3b2b97","#f9c98e","#f9c98e","#ec3b1e","#c9455e","#c9455e","#c98bbd","#c98bbd","#05a358","#05a358"]},
   "legend": {"title": null, "orient": "none", "legendX": -87.5, "legendY": -80.5, "direction": "horizontal", "columns": 2, "columnPadding": 52, "padding": 0, "values": ["Incision-LY 1","Incision-LY 0.2"], "labelFont": "Liberation Serif", "labelFontSize": 31, "labelFontWeight": "bold", "labelColor": "#111111", "labelOffset": 21, "labelLimit": 500, "symbolSize": 256,
    "encode": {"symbols": {"update": {"shape": {"signal": "datum.value == 'Incision-LY 1' ? 'M-2.3,0H2.3M-0.5,-0.87L0.5,-0.87L1,0L0.5,0.87L-0.5,0.87L-1,0Z' : 'M-2.3,0H2.3M0,-1.1L1.1,0L0,1.1L-1.1,0Z'"}, "fill": {"signal": "datum.value == 'Incision-LY 1' ? '#c98bbd' : '#05a358'"}, "stroke": {"signal": "datum.value == 'Incision-LY 1' ? '#c98bbd' : '#05a358'"}, "strokeWidth": {"value": 2.5}, "opacity": {"value": 1}}}}}}
 },
 "layer": [
  {"data": {"name": "pts"}, "transform": [{"filter": "datum.p == 'f' && isValid(datum.hi)"}], "mark": {"type": "rule", "strokeWidth": 2}, "encoding": {"y2": {"field": "hi"}}},
  {"data": {"name": "pts"}, "transform": [{"filter": "datum.p == 'f' && isValid(datum.lo)"}], "mark": {"type": "rule", "strokeWidth": 2}, "encoding": {"y2": {"field": "lo"}}},
  {"data": {"name": "pts"}, "transform": [{"filter": "datum.p == 'f' && isValid(datum.hi)"}], "mark": {"type": "tick", "orient": "horizontal", "size": 14, "thickness": 2}, "encoding": {"y": {"field": "hi", "type": "quantitative", "title": "The cumulative pain scores"}}},
  {"data": {"name": "pts"}, "transform": [{"filter": "datum.p == 'f' && isValid(datum.lo)"}], "mark": {"type": "tick", "orient": "horizontal", "size": 14, "thickness": 2}, "encoding": {"y": {"field": "lo", "type": "quantitative", "title": "The cumulative pain scores"}}},
  {"data": {"name": "pts"}, "transform": [{"filter": "datum.p == 'f'"}], "mark": {"type": "line", "strokeWidth": 2}},
  {"data": {"name": "pts"}, "transform": [{"filter": "datum.p == 'f'"}], "mark": {"type": "point", "filled": true, "size": 196, "opacity": 1}, "encoding": {"shape": {"field": "s", "type": "nominal", "legend": null, "scale": {"domain": ["Sham-DMSO","Sham-Wort 0.4","Sham-LY5","Incision-DMSO","Incision-Wort 0.4","Incision-LY5","Incision-Wort 0.08","Incision-LY 1","Incision-Wort0.016","Incision-LY 0.2"], "range": ["M0,-1L1,0.75L-1,0.75Z","M-1,-0.75L1,-0.75L0,1Z","M-1,-0.75L1,-0.75L0,1Z","M-0.95,0A0.95,0.95,0,1,1,0.95,0A0.95,0.95,0,1,1,-0.95,0Z","M-0.9,-0.9H0.9V0.9H-0.9Z","M-0.9,-0.9H0.9V0.9H-0.9Z","M-0.5,-0.87L0.5,-0.87L1,0L0.5,0.87L-0.5,0.87L-1,0Z","M-0.5,-0.87L0.5,-0.87L1,0L0.5,0.87L-0.5,0.87L-1,0Z","M0,-1.1L1.1,0L0,1.1L-1.1,0Z","M0,-1.1L1.1,0L0,1.1L-1.1,0Z"]}}}},
  {"data": {"name": "ann"}, "transform": [{"filter": "datum.p == 'f' && datum.k != 'L'"}], "mark": {"type": "text", "lineBreak": "\n", "font": "Liberation Serif", "fontSize": 21, "lineHeight": 14, "baseline": "middle", "align": "center"}, "encoding": {"text": {"field": "txt"}, "color": {"condition": {"test": "datum.k == 'h'", "value": "#f04a22"}, "value": "#c9455e"}}},
  {"data": {"name": "ann"}, "transform": [{"filter": "datum.p == 'f' && datum.k == 'L'"}], "mark": {"type": "text", "font": "Liberation Sans", "fontSize": 38, "fontWeight": "bold", "baseline": "alphabetic", "align": "left", "dx": -3, "dy": -3}, "encoding": {"text": {"field": "txt"}, "color": {"value": "#000000"}}}
 ]}
], "spacing": 181, "bounds": "flush", "resolve": {"legend": {"color": "independent"}}}
],
"spacing": 40,
"resolve": {"legend": {"color": "independent"}}
}
